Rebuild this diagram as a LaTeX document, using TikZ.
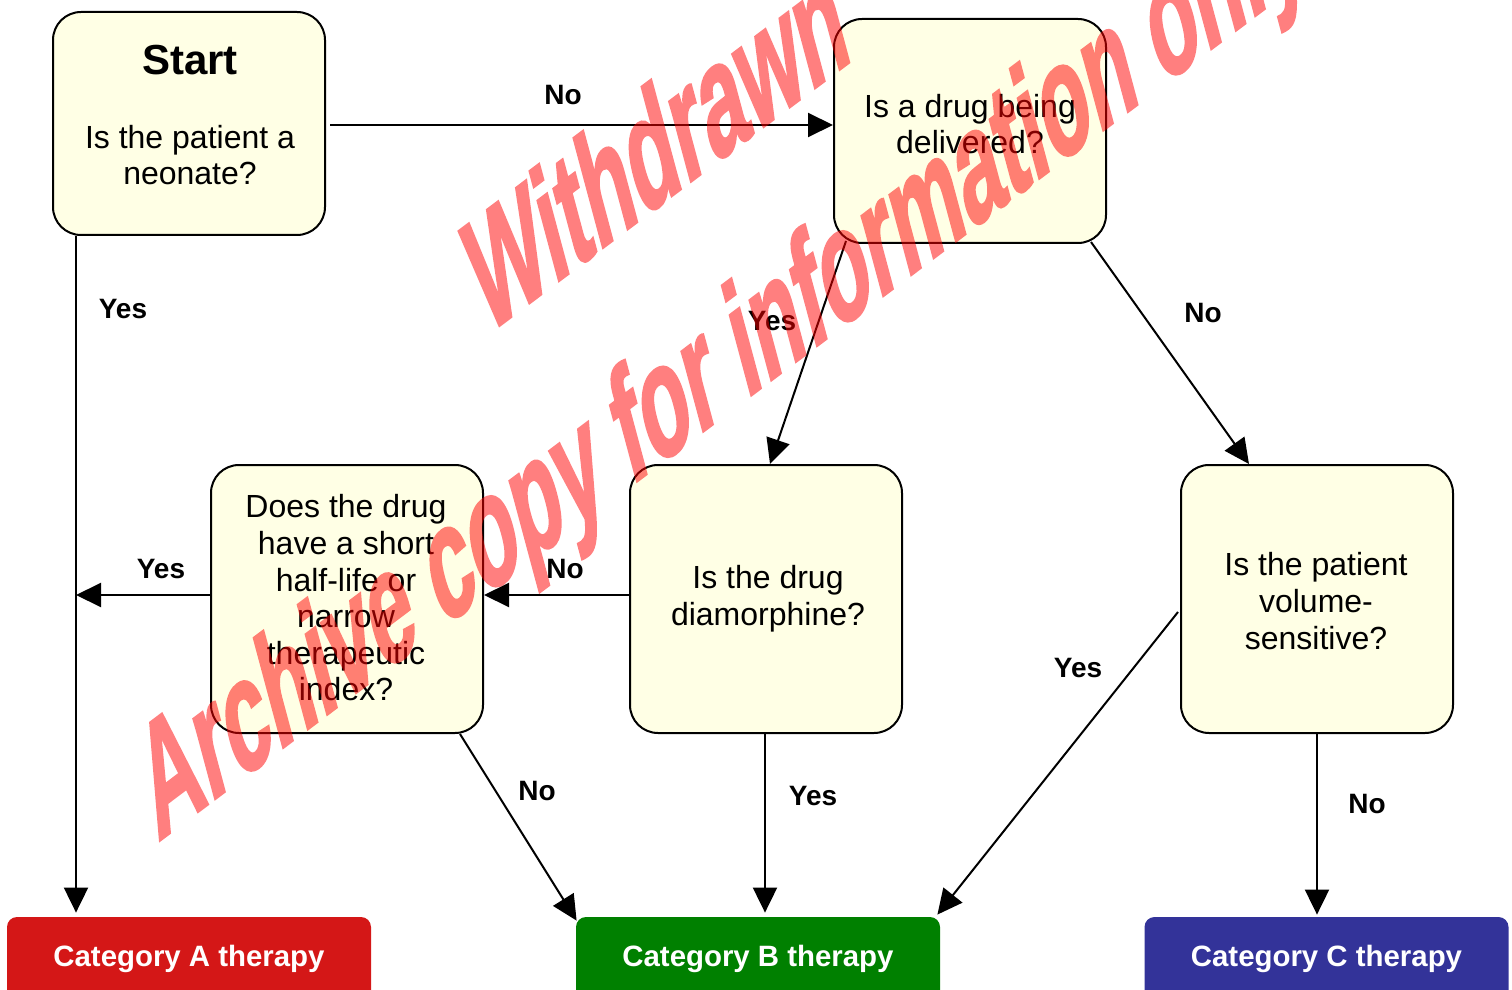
\documentclass[tikz,border=0pt]{standalone}
\usepackage{fontspec}
\setmainfont{Liberation Sans}
\newfontfamily\wmfont[FakeBold=2]{Liberation Sans Bold}
\usetikzlibrary{arrows.meta,calc}
\definecolor{boxfill}{RGB}{255,255,229}
\definecolor{catAcol}{RGB}{212,23,23}
\definecolor{catBcol}{RGB}{0,128,0}
\definecolor{catCcol}{RGB}{51,51,153}
\begin{document}
\begin{tikzpicture}[x=0.5pt,y=-0.5pt,
  qbox/.style={draw=black, line width=1pt, fill=boxfill, rounded corners=14pt,
    inner sep=0pt, minimum width=136pt},
  catbox/.style={rounded corners=5pt, inner sep=0pt, minimum width=182pt,
    minimum height=41.5pt, text=white, font=\bfseries\fontsize{14.7}{17}\selectfont},
  body/.style={font=\fontsize{16}{18.3}\selectfont, align=center, inner sep=0pt},
  lbl/.style={font=\bfseries\fontsize{14}{16}\selectfont, inner sep=0pt},
  conn/.style={line width=1pt, -{Triangle[length=12.5pt,width=12pt]}},
  wm/.style={text=red, inner sep=0pt,
    font=\wmfont\fontsize{10}{12}\selectfont}]
\useasboundingbox (0,0) rectangle (1512,990);
\clip (0,0) rectangle (1512,990);

% question boxes
\node[qbox, minimum height=111.5pt] (start) at (189,123.5) {};
\node[qbox, minimum height=112pt] (box2) at (970,131) {};
\node[qbox, minimum height=134pt] (box3) at (347,599) {};
\node[qbox, minimum height=134pt] (box4) at (766,599) {};
\node[qbox, minimum height=134pt] (box5) at (1317,599) {};

% texts
\node[font=\bfseries\fontsize{21}{24}\selectfont, inner sep=0pt] (starttitle) at (190,60) {Start};
\node[body] (t1) at (190,155) {Is the patient a\\neonate?};
\node[body] (t2) at (970,124) {Is a drug being\\delivered?};
\node[body] (t3) at (346,598) {Does the drug\\have a short\\half-life or\\narrow\\therapeutic\\index?};
\node[body] (t4) at (768,599) {Is the drug\\diamorphine?};
\node[body] (t5) at (1316,601) {Is the patient\\volume-\\sensitive?};

% category boxes
\node[catbox, fill=catAcol] (catA) at (189,958.5) {Category A therapy};
\node[catbox, fill=catBcol] (catB) at (758,958.5) {Category B therapy};
\node[catbox, fill=catCcol] (catC) at (1326.5,958.5) {Category C therapy};

% connectors
\draw[conn] ($(start.east)+(4,1.5)$) coordinate (se) -- (se -| box2.west);
\coordinate (sbot) at ($(start.south west)+(24,0)$);
\draw[conn, shorten >=2pt] (sbot) -- (sbot |- catA.north);
\draw[conn] ($(box2.south west)+(13,-3)$) -- ($(box4.north)+(4,0)$);
\draw[conn] ($(box2.south east)+(-16,-2)$) -- ($(box5.north west)+(69,0)$);
\draw[conn] ($(box4.west)+(0,-4)$) coordinate (n4) -- (n4 -| box3.east);
\draw[conn] ($(box3.west)+(0,-4)$) coordinate (y3) -- (y3 -| sbot);
\draw[conn] ($(box3.south east)+(-24,0)$) -- ($(catB.north west)+(1,4)$);
\draw[conn, shorten >=2pt] ($(box4.south)+(-1,0)$) coordinate (s4) -- (s4 |- catB.north);
\draw[conn] ($(box5.west)+(-2,13)$) -- ($(catB.north east)+(-3,-2)$);
\draw[conn, shorten >=1pt] (box5.south) -- (box5.south |- catC.north);

% connector labels
\node[lbl] (l1) at (563,95) {No};
\node[lbl] (l2) at (123,309) {Yes};
\node[lbl] (l3) at (772,321) {Yes};
\node[lbl] (l4) at (1203,313) {No};
\node[lbl] (l5) at (565,569) {No};
\node[lbl] (l6) at (161,569) {Yes};
\node[lbl] (l7) at (537,791) {No};
\node[lbl] (l8) at (813,796) {Yes};
\node[lbl] (l9) at (1078,668) {Yes};
\node[lbl] (l10) at (1367,804) {No};

% watermark
\begin{scope}[transparency group, opacity=0.5]
\begin{scope}[shift={(670,197)}]
\node[wm, cm={3.6,2.71,-2.02,7.53,(0,0)}, anchor=base] (wm1) at (0,0) {Withdrawn};
\end{scope}
\begin{scope}[shift={(734,408)}]
\node[wm, cm={3.6,2.71,-2.02,7.53,(0,0)}, anchor=base] (wm2) at (0,0) {Archive copy for information only};
\end{scope}
\end{scope}
\end{tikzpicture}
\end{document}
